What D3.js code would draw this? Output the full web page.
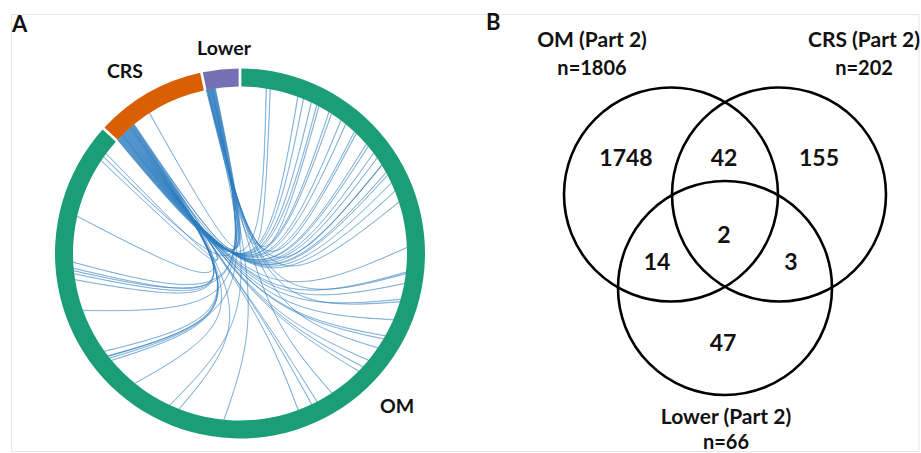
<!DOCTYPE html>
<html>
<head>
<meta charset="utf-8">
<script src="https://cdn.jsdelivr.net/npm/d3@7"></script>
<style>
  body { margin: 0; background: #fff; }
  svg { display: block; }
  text { font-family: Lato, 'Open Sans', sans-serif; font-weight: bold; fill: #111; }
</style>
</head>
<body>
<script>
// chord ring groups (segment length = number of genes)
const groups = ['OM', 'CRS', 'Lower']
const groupSizes = [1806, 202, 66]

// gene position on OM for each OM-CRS link (CRS slot = array index)
const crsOmPos = [50, 115, 127, 144, 156, 184, 190, 213, 225, 248, 282, 288, 305, 317, 334,
  351, 357, 374, 392, 507, 556, 579, 611, 654, 690, 697, 749, 766, 778, 881, 893, 922,
  1164, 1266, 1331, 1337, 1342, 1354, 1509, 1521, 1532, 1636, 1757, 1774]
// gene position on OM for each OM-Lower link (Lower slot = array index)
const lowerOmPos = [58, 161, 253, 334, 415, 559, 616, 718, 847, 1072, 1184, 1342, 1446, 1527, 1544, 1766]
// CRS-Lower links: slot on CRS, slot on Lower
const crsLowerCrsPos = [14, 36, 44, 45, 83]
const crsLowerLowerPos = [3, 11, 16, 17, 18]

// venn diagram
const vennSets = ['OM (Part 2)', 'CRS (Part 2)', 'Lower (Part 2)']
const vennTotals = [1806, 202, 66]
const vennRegions = ['OM', 'OM&CRS', 'CRS', 'OM&CRS&Lower', 'OM&Lower', 'CRS&Lower', 'Lower']
const vennCounts = [1748, 42, 155, 2, 14, 3, 47]

const WIDTH = 921
const HEIGHT = 453
const groupColors = ['#1b9e77', '#d95f02', '#7570b3']

const svg = d3.select('body').append('svg')
  .attr('width', WIDTH)
  .attr('height', HEIGHT)
  .attr('viewBox', `0 0 ${WIDTH} ${HEIGHT}`)

// light frame around the figure
svg.append('rect')
  .attr('x', 11.5).attr('y', 14.5)
  .attr('width', 907.5).attr('height', 437)
  .attr('fill', 'none').attr('stroke', '#e6e6e6')

// ---------- panel A : chord diagram ----------
const cx = 240, cy = 253.5
const outerR = 185, innerR = 167
const pad = 0.011

const pie = d3.pie().sort(null).padAngle(pad)
const arcs = pie(groupSizes)

const ringArc = d3.arc().innerRadius(innerR).outerRadius(outerR)

const gA = svg.append('g').attr('transform', `translate(${cx},${cy})`)

// one angle scale per group
const geneAngle = arcs.map(a => d3.scaleLinear()
  .domain([0, a.value])
  .range([a.startAngle + pad / 2, a.endAngle - pad / 2]))

const pt = (a, r) => [r * Math.sin(a), -r * Math.cos(a)]
// links bend round a point below and right of the centre
const hub = [20, 55]
const reach = 0.08 * innerR
const ctrl = a => [hub[0] + reach * Math.sin(a), hub[1] - reach * Math.cos(a)]

function ribbon(g1, p1, g2, p2) {
  const s0 = geneAngle[g1](p1), s1 = geneAngle[g1](p1 + 1)
  const t0 = geneAngle[g2](p2), t1 = geneAngle[g2](p2 + 1)
  const path = d3.path()
  path.moveTo(...pt(s0, innerR))
  path.arc(0, 0, innerR, s0 - Math.PI / 2, s1 - Math.PI / 2)
  path.bezierCurveTo(...ctrl(s1), ...ctrl(t0), ...pt(t0, innerR))
  path.arc(0, 0, innerR, t0 - Math.PI / 2, t1 - Math.PI / 2)
  path.bezierCurveTo(...ctrl(t1), ...ctrl(s0), ...pt(s0, innerR))
  path.closePath()
  return path.toString()
}

const links = []
crsOmPos.forEach((p, i) => links.push([1, i, 0, p]))
lowerOmPos.forEach((p, i) => links.push([2, i, 0, p]))
crsLowerCrsPos.forEach((p, i) => links.push([1, p, 2, crsLowerLowerPos[i]]))

gA.append('g')
  .selectAll('path')
  .data(links)
  .join('path')
  .attr('d', d => ribbon(...d))
  .attr('fill', '#2f7fc1')
  .attr('fill-opacity', 0.45)
  .attr('stroke', '#2f7fc1')
  .attr('stroke-opacity', 0.4)
  .attr('stroke-width', 0.8)

gA.append('g')
  .selectAll('path')
  .data(arcs)
  .join('path')
  .attr('d', ringArc)
  .attr('fill', (d, i) => groupColors[i])

const groupLabelPos = [[397, 413], [125, 78], [224, 55]]
svg.append('g')
  .selectAll('text')
  .data(groups)
  .join('text')
  .attr('x', (d, i) => groupLabelPos[i][0])
  .attr('y', (d, i) => groupLabelPos[i][1])
  .attr('text-anchor', 'middle')
  .attr('font-size', 19.5)
  .text(d => d)

svg.append('text').attr('x', 12).attr('y', 32).attr('font-size', 22).text('A')
svg.append('text').attr('x', 486).attr('y', 30).attr('font-size', 22).text('B')

// ---------- panel B : venn diagram ----------
const vr = 107
const vx = 725, vy = 194.5, side = 108
const centers = [[vx - side / 2, vy], [vx + side / 2, vy], [vx, vy + side * Math.sqrt(3) / 2]]

const gB = svg.append('g')
gB.selectAll('circle')
  .data(vennSets)
  .join('circle')
  .attr('cx', (d, i) => centers[i][0])
  .attr('cy', (d, i) => centers[i][1])
  .attr('r', vr)
  .attr('fill', 'none')
  .attr('stroke', '#000')
  .attr('stroke-width', 2.6)

// region label offsets from the centre of the three circles
const regionOffset = {
  'OM': [-99, -29], 'OM&CRS': [-1, -29], 'CRS': [94, -29], 'OM&CRS&Lower': [-1, 48],
  'OM&Lower': [-68, 75], 'CRS&Lower': [66, 75], 'Lower': [-2, 156]
}
gB.selectAll('text.count')
  .data(vennRegions)
  .join('text')
  .attr('class', 'count')
  .attr('x', d => vx + regionOffset[d][0])
  .attr('y', d => vy + regionOffset[d][1])
  .attr('text-anchor', 'middle')
  .attr('font-size', 23)
  .text((d, i) => vennCounts[i])

const setLabelPos = [[592, 47, 75], [864, 47, 75], [726, 424, 449]]
vennSets.forEach((s, i) => {
  const t = gB.append('text')
    .attr('text-anchor', 'middle')
  t.append('tspan').attr('x', setLabelPos[i][0]).attr('y', setLabelPos[i][1])
    .attr('font-size', 21).text(s)
  t.append('tspan').attr('x', setLabelPos[i][0]).attr('y', setLabelPos[i][2])
    .attr('font-size', 20).text(`n=${vennTotals[i]}`)
})
</script>
</body>
</html>
